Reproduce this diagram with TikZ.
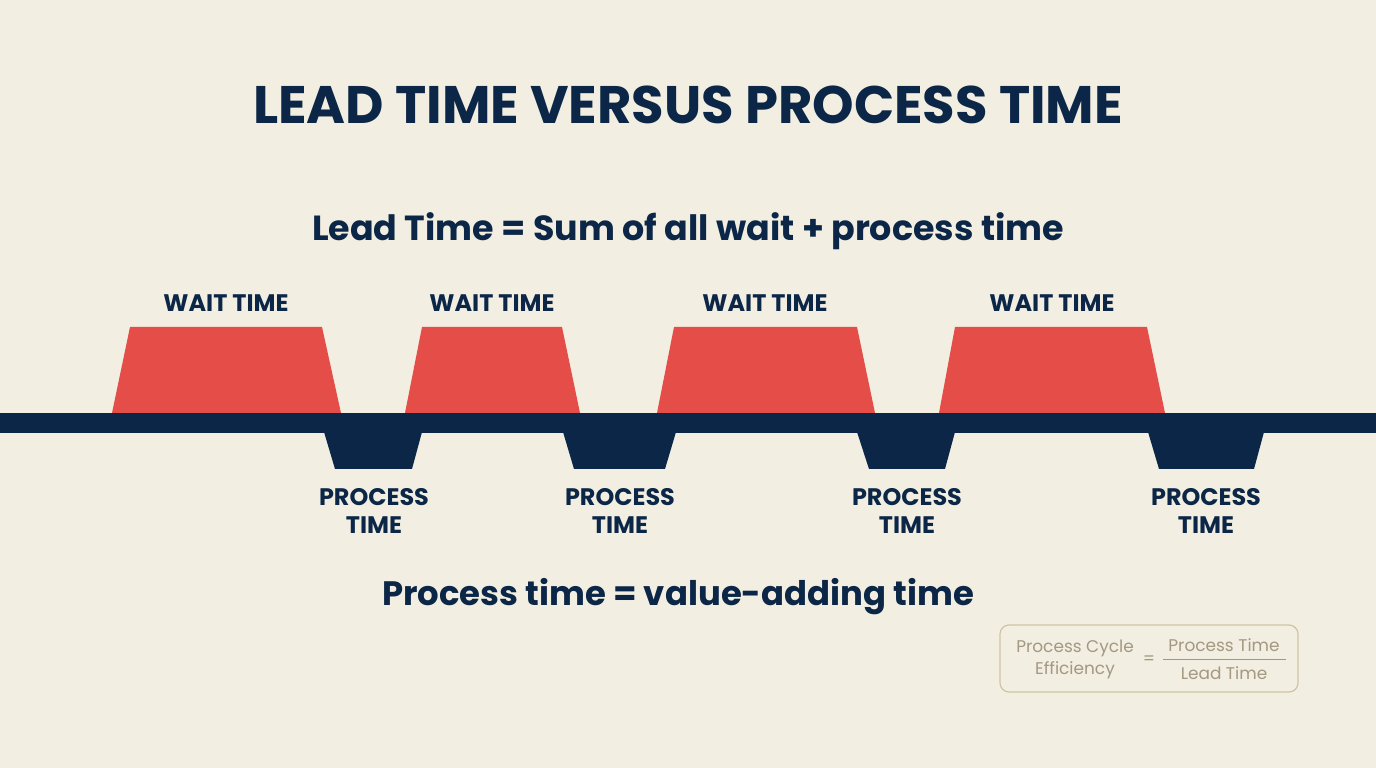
\documentclass[tikz,border=0pt]{standalone}
\usepackage{fontspec}
\setmainfont{Poppins}
\definecolor{bgcol}{HTML}{F2EEE1}
\definecolor{navy}{HTML}{0B2646}
\definecolor{waitred}{HTML}{E44D48}
\definecolor{tan}{HTML}{A39882}
\definecolor{tanline}{HTML}{CFC3A6}
\tikzset{
  title/.style={text=navy,font=\fontsize{53}{62}\selectfont\bfseries},
  headline/.style={text=navy,font=\fontsize{34}{40}\selectfont\bfseries},
  waitlabel/.style={text=navy,font=\fontsize{24}{28}\selectfont\bfseries},
  proclabel/.style={text=navy,align=center,font=\fontsize{24}{28}\selectfont\bfseries},
  waitbox/.style={fill=waitred,draw=none},
  procbox/.style={fill=navy,draw=none},
  eff/.style={text=tan,align=center,inner sep=0pt,font=\fontsize{17}{22}\selectfont},
}
\begin{document}
\begin{tikzpicture}[line join=miter]
%%
\fill [bgcol] (0bp,0bp) rectangle (1376bp,768bp);
\useasboundingbox (0bp,0bp) rectangle (1376bp,768bp);
  \node (title) at (688.0bp,663.0bp) [title] {LEAD TIME VERSUS PROCESS TIME};
  \node (lead) at (688.0bp,537.0bp) [headline,font=\fontsize{35}{40}\selectfont\bfseries] {Lead Time = Sum of all wait + process time};
  \node (wait1) at (226.0bp,465.0bp) [waitlabel] {WAIT TIME};
  \node (wait2) at (492.0bp,465.0bp) [waitlabel] {WAIT TIME};
  \node (wait3) at (765.0bp,465.0bp) [waitlabel] {WAIT TIME};
  \node (wait4) at (1052.0bp,465.0bp) [waitlabel] {WAIT TIME};
  \fill [waitbox] (112.0bp,355.0bp) -- (130.0bp,441.0bp) -- (322.0bp,441.0bp) -- (341.0bp,355.0bp) -- cycle;
  \fill [waitbox] (405.0bp,355.0bp) -- (422.0bp,441.0bp) -- (562.0bp,441.0bp) -- (580.0bp,355.0bp) -- cycle;
  \fill [waitbox] (657.0bp,355.0bp) -- (674.0bp,441.0bp) -- (857.0bp,441.0bp) -- (875.0bp,355.0bp) -- cycle;
  \fill [waitbox] (939.0bp,355.0bp) -- (955.0bp,441.0bp) -- (1147.0bp,441.0bp) -- (1165.0bp,355.0bp) -- cycle;
  \fill [procbox] (0.0bp,335.0bp) rectangle (1376.0bp,355.0bp);
  \fill [procbox] (324.0bp,336.0bp) -- (335.0bp,299.0bp) -- (412.0bp,299.0bp) -- (422.0bp,336.0bp) -- cycle;
  \fill [procbox] (563.0bp,336.0bp) -- (574.0bp,299.0bp) -- (665.0bp,299.0bp) -- (676.0bp,336.0bp) -- cycle;
  \fill [procbox] (857.0bp,336.0bp) -- (869.0bp,299.0bp) -- (945.0bp,299.0bp) -- (955.0bp,336.0bp) -- cycle;
  \fill [procbox] (1148.0bp,336.0bp) -- (1159.0bp,299.0bp) -- (1254.0bp,299.0bp) -- (1264.0bp,336.0bp) -- cycle;
  \node (proc1) at (374.0bp,257.0bp) [proclabel] {PROCESS\\TIME};
  \node (proc2) at (620.0bp,257.0bp) [proclabel] {PROCESS\\TIME};
  \node (proc3) at (907.0bp,257.0bp) [proclabel] {PROCESS\\TIME};
  \node (proc4) at (1206.0bp,257.0bp) [proclabel] {PROCESS\\TIME};
  \node (value) at (678.0bp,171.0bp) [headline] {Process time = value-adding time};
%
  \draw [tanline,line width=1.2bp,rounded corners=9bp] (1000.0bp,76.0bp) rectangle (1298.0bp,143.0bp);
  \node (pce) at (1075.0bp,109.0bp) [eff] {Process Cycle\\Efficiency};
  \node (eq) at (1149.0bp,108.0bp) [eff] {=};
  \node (num) at (1224.0bp,123.0bp) [eff] {Process Time};
  \node (den) at (1224.0bp,95.0bp) [eff] {Lead Time};
  \draw [tan,line width=0.9bp] (1163.0bp,109.0bp) -- (1286.0bp,109.0bp);
%
\end{tikzpicture}
\end{document}
